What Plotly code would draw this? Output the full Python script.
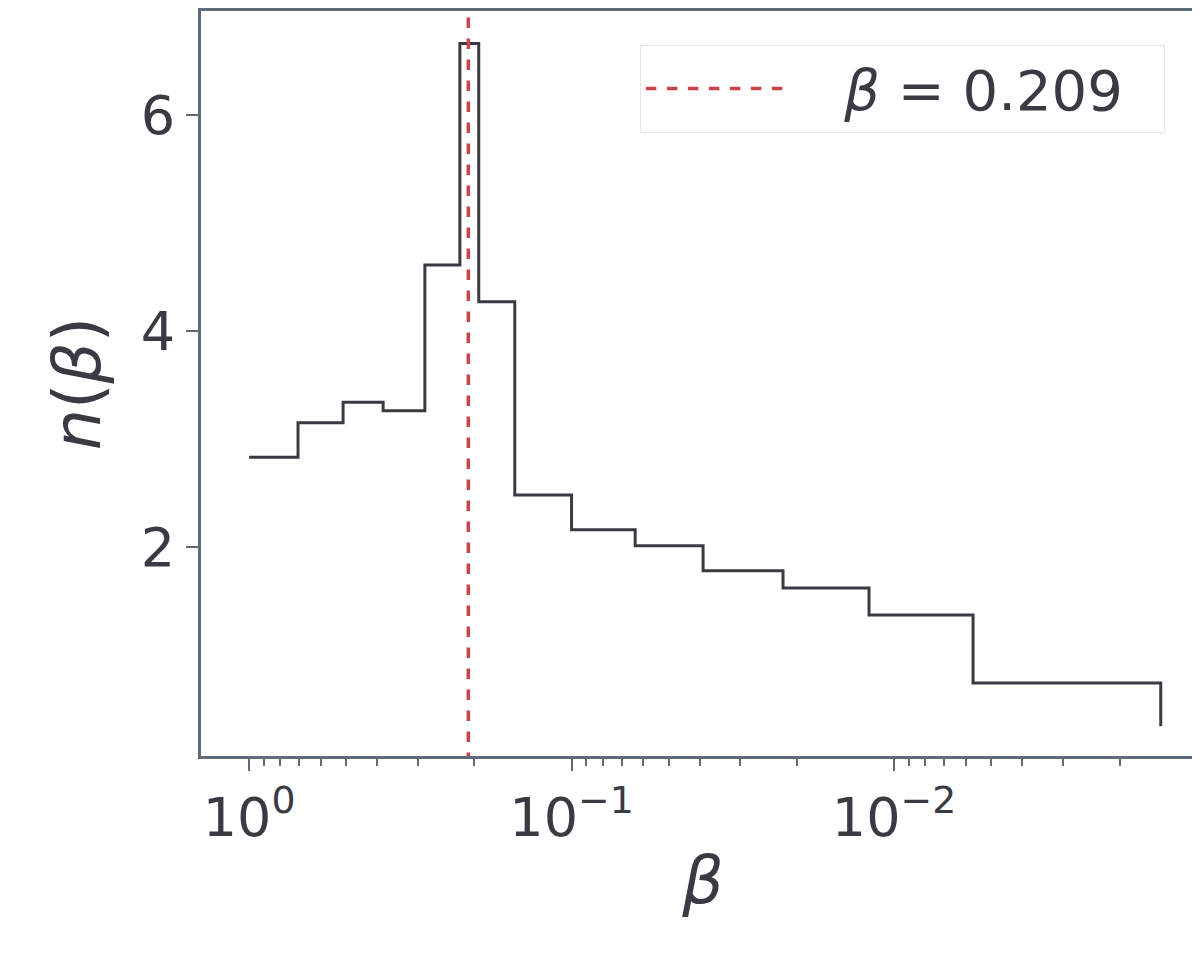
import numpy as np
import plotly.graph_objects as go

edges = [1.0, 0.705, 0.511, 0.384, 0.285, 0.222, 0.194, 0.150, 0.100, 0.0635,
         0.0391, 0.0221, 0.01196, 0.00569, 0.00149]
counts = [2.83, 3.15, 3.34, 3.26, 4.61, 6.66, 4.27, 2.48, 2.16, 2.01, 1.78, 1.62, 1.37, 0.74]
end_drop = 0.34
beta_line = 0.209
tick_vals = [1, 0.1, 0.01]
tick_text = ["10<sup>0</sup>", "10<sup>−1</sup>", "10<sup>−2</sup>"]
minor_vals = [m * 10.0 ** e for e in [-3, -2, -1] for m in range(2, 10)]

xs, ys = [], []
for i, c in enumerate(counts):
    xs += [edges[i], edges[i + 1]]
    ys += [c, c]
xs.append(edges[-1]); ys.append(end_drop)

txt = "#3a3a45"
frame = "#5f6b78"
fig = go.Figure()
fig.add_trace(go.Scatter(x=xs, y=ys, mode="lines", line=dict(color="#3a3a45", width=3),
                         showlegend=False))
fig.add_trace(go.Scatter(x=[beta_line, beta_line], y=[0, 7.2], mode="lines",
                         line=dict(color="#c9434a", width=3.5, dash="dash"),
                         name="   <i>β</i> = 0.209  "))
fig.update_layout(
    width=1200, height=968, plot_bgcolor="white", paper_bgcolor="white",
    margin=dict(l=193, r=3, t=3, b=220),
    font=dict(family="DejaVu Sans", size=54, color=txt),
    legend=dict(x=0.96, y=0.955, xanchor="right", yanchor="top", itemwidth=140,
                bordercolor="#e6e6e6", borderwidth=1, bgcolor="white",
                font=dict(size=56)),
)
fig.update_xaxes(type="log", range=[0.149, -2.964], tickvals=tick_vals, ticktext=tick_text,
                 ticks="outside", ticklen=12, tickwidth=2, tickcolor=frame, automargin=False,
                 minor=dict(ticks="outside", ticklen=7, tickwidth=1.5, tickcolor=frame,
                            tickvals=minor_vals, showgrid=False),
                 showgrid=False, showline=True, linecolor=frame, linewidth=3, mirror=True,
                 title=dict(text="<i>β</i>", standoff=10), zeroline=False)
fig.update_yaxes(range=[0.065, 6.96], tickvals=[2, 4, 6], ticks="outside", ticklen=12,
                 tickwidth=2, tickcolor=frame, showgrid=False, showline=True, linecolor=frame,
                 linewidth=3, mirror=True, title=dict(text="<i>n</i>(<i>β</i>)", standoff=20),
                 zeroline=False, automargin=False)
fig.write_html("out.html")
